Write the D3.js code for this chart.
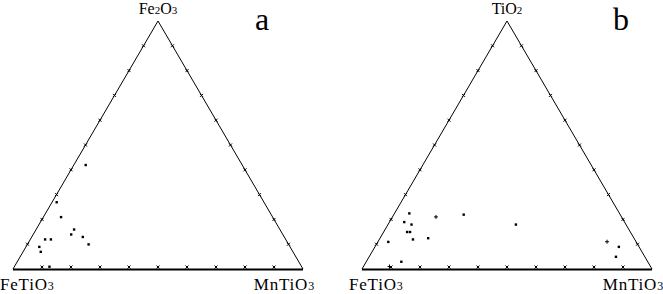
<!DOCTYPE html>
<html>
<head>
<meta charset="utf-8">
<script src="https://cdn.jsdelivr.net/npm/d3@7"></script>
<style>
  body { margin: 0; background: #fff; }
  svg { display: block; }
</style>
</head>
<body>
<svg id="chart"></svg>
<script>
const W = 663, H = 294;

// composition in % : [top apex, right corner]; bottom-left = 100 - both
const topA = [42, 27, 21, 16, 14, 13, 10, 12, 12, 9, 7, 1]
const rightA = [4, 1.5, 6, 13, 13, 17.5, 21, 5, 7, 4.5, 6, 12]
const markA = ['s', 's', 's', 's', 's', 's', 's', 's', 's', 's', 's', 's']

const topB = [22.5, 19, 18, 15, 15, 12, 12.5, 21, 22, 18, 11, 3, 1, 11, 9, 5]
const rightB = [5, 5, 8, 8, 9, 11.5, 16.5, 15, 24, 44, 3.5, 12, 9, 79, 84, 85]
const markB = ['s', 's', 's', 's', 's', 's', 's', 'p', 's', 's', 's', 's', 'p', 'p', 's', 's']

const tickVals = [10, 20, 30, 40, 50, 60, 70, 80, 90]

const panels = [
  {left: 13, right: 303, top: 21, base: 269, apex: ['Fe', '2', 'O', '3'], letter: 'a',
   letterX: 262, tops: topA, rights: rightA, marks: markA},
  {left: 362, right: 652, top: 21, base: 269, apex: ['Ti', 'O', '2'], letter: 'b',
   letterX: 621, tops: topB, rights: rightB, marks: markB},
]

const svg = d3.select('#chart').attr('width', W).attr('height', H)
const serif = '"Liberation Serif", "Times New Roman", serif'

function drawPanel(p) {
  const x = d3.scaleLinear().domain([0, 100]).range([p.left, p.right])
  const y = d3.scaleLinear().domain([0, 100]).range([p.base, p.top])
  // ternary -> screen
  const px = (t, r) => x(r + t / 2)
  const py = (t) => y(t)

  const g = svg.append('g')

  // sides
  g.append('path')
    .attr('d', `M${px(0, 0)},${py(0)} L${px(100, 0)},${py(100)} L${px(0, 100)},${py(0)}`)
    .attr('fill', 'none').attr('stroke', '#000').attr('stroke-width', 1)
  g.append('line')
    .attr('x1', px(0, 0)).attr('x2', px(0, 100))
    .attr('y1', py(0) + 0.5).attr('y2', py(0) + 0.5)
    .attr('stroke', '#000').attr('stroke-width', 2)

  // tick crosses along every side
  const tickPts = []
  tickVals.forEach(v => {
    tickPts.push([px(0, v), py(0) - 2])       // base
    tickPts.push([px(v, 0), py(v)])           // left side
    tickPts.push([px(v, 100 - v), py(v)])     // right side
  })
  const s = 1.5
  g.selectAll('.tick').data(tickPts).enter().append('path')
    .attr('d', d => `M${d[0] - s},${d[1] - s}L${d[0] + s},${d[1] + s}M${d[0] - s},${d[1] + s}L${d[0] + s},${d[1] - s}`)
    .attr('stroke', '#000').attr('stroke-width', 1)

  // data points
  const pts = p.tops.map((t, i) => ({t: t, r: p.rights[i], m: p.marks[i]}))
  g.selectAll('.pt-s').data(pts.filter(d => d.m === 's')).enter().append('rect')
    .attr('x', d => px(d.t, d.r) - 1)
    .attr('y', d => py(d.t) - 1)
    .attr('width', 2.4).attr('height', 2.4)
    .attr('fill', '#000')
  g.selectAll('.pt-p').data(pts.filter(d => d.m === 'p')).enter().append('path')
    .attr('d', d => {
      const cx = px(d.t, d.r), cy = py(d.t)
      return `M${cx - 2},${cy}L${cx + 2},${cy}M${cx},${cy - 2}L${cx},${cy + 2}`
    })
    .attr('stroke', '#000').attr('stroke-width', 1)

  // apex label
  const apex = g.append('text')
    .attr('x', px(100, 0)).attr('y', 14)
    .attr('text-anchor', 'middle')
    .attr('font-family', serif).attr('font-size', 16)
  p.apex.forEach(part => {
    const sub = /^\d$/.test(part)
    apex.append('tspan')
      .attr('font-size', sub ? 11 : 16)
      .text(part)
  })

  // corner labels
  const corner = (cx, anchor, parts) => {
    const t = g.append('text')
      .attr('x', cx).attr('y', 290)
      .attr('text-anchor', anchor)
      .attr('font-family', serif).attr('font-size', 17)
      .attr('letter-spacing', 0.8)
    parts.forEach(part => {
      t.append('tspan').attr('font-size', /^\d$/.test(part) ? 12 : 17).text(part)
    })
  }
  corner(p.left - 13, 'start', ['FeTiO', '3'])
  corner(p.right + 12, 'end', ['MnTiO', '3'])

  // panel letter
  g.append('text')
    .attr('x', p.letterX).attr('y', 30)
    .attr('text-anchor', 'middle')
    .attr('font-family', serif).attr('font-size', 32)
    .text(p.letter)
}

panels.forEach(drawPanel)
</script>
</body>
</html>
